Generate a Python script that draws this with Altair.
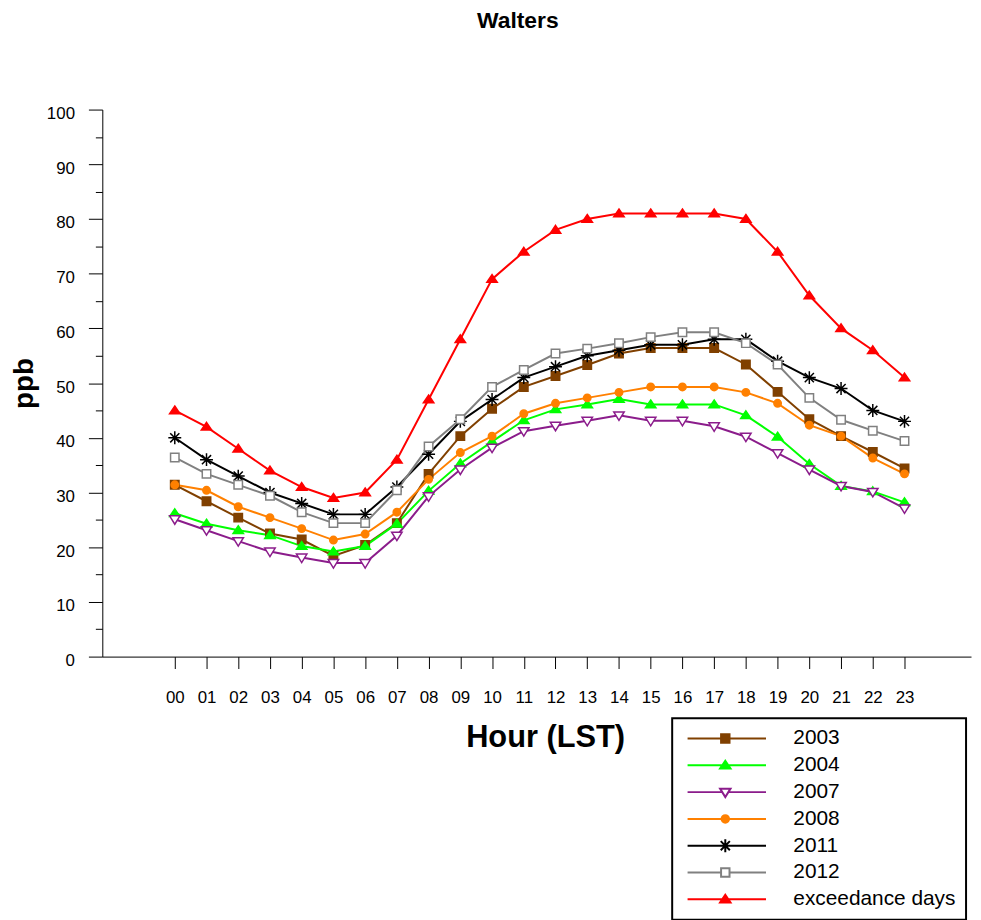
import altair as alt
import pandas as pd

FONT = "Liberation Sans, Arial, sans-serif"

hours = list(range(24))
series_names = ["2003", "2004", "2007", "2008", "2011", "2012", "exceedance days"]

v2003 = [31.4, 28.4, 25.4, 22.5, 21.4, 18.4, 20.4, 24.4, 33.4, 40.3, 45.3, 49.3,
         51.3, 53.3, 55.4, 56.4, 56.4, 56.4, 53.4, 48.4, 43.4, 40.3, 37.4, 34.4]
v2004 = [26.2, 24.3, 23.1, 22.2, 20.2, 19.2, 20.2, 24.3, 30.3, 35.3, 39.3, 43.2,
         45.2, 46.1, 47.1, 46.1, 46.1, 46.1, 44.1, 40.2, 35.2, 31.2, 30.2, 28.2]
v2007 = [25.1, 23.1, 21.1, 19.2, 18.1, 17.1, 17.1, 22.1, 29.3, 34.2, 38.2, 41.2,
         42.2, 43.1, 44.1, 43.1, 43.1, 42.1, 40.2, 37.2, 34.2, 31.2, 30.1, 27.1]
v2008 = [31.4, 30.4, 27.4, 25.4, 23.4, 21.3, 22.4, 26.4, 32.4, 37.3, 40.3, 44.4,
         46.3, 47.3, 48.3, 49.3, 49.3, 49.3, 48.3, 46.3, 42.3, 40.3, 36.3, 33.4]
v2011 = [40, 36, 33, 30, 28, 26, 26, 31, 37, 43, 47, 51,
         53, 55, 56, 57, 57, 58, 58, 54, 51, 49, 45, 43]
v2012 = [36.4, 33.4, 31.4, 29.4, 26.4, 24.4, 24.4, 30.4, 38.4, 43.4, 49.3, 52.4,
         55.4, 56.3, 57.3, 58.4, 59.3, 59.3, 57.3, 53.4, 47.3, 43.3, 41.3, 39.4]
vexceed = [45, 42, 38, 34, 31, 29, 30, 36, 47, 58, 69, 74,
           78, 80, 81, 81, 81, 81, 80, 74, 66, 60, 56, 51]

all_values = [v2003, v2004, v2007, v2008, v2011, v2012, vexceed]

stroke_colors = ["#804000", "#00FF00", "#8B1C8B", "#FF8000", "#000000", "#808080", "#FF0000"]
fill_colors = ["#804000", "#00FF00", "#FFFFFF", "#FF8000", "transparent", "#FFFFFF", "#FF0000"]

# marker shapes (unit = sqrt(size)/2 px)
SQ = "M-0.85,-0.85H0.85V0.85H-0.85Z"
TRI_UP = "M0,-0.9L1.05,0.65H-1.05Z"
TRI_DN = "M-1.05,-0.7H1.05L0,1.0Z"
CIRC = "M0.75,0A0.75,0.75,0,1,1,-0.75,0A0.75,0.75,0,1,1,0.75,0Z"
STAR = "M-1.3,0H1.3M0,-1.3V1.3M-0.92,-0.92L0.92,0.92M-0.92,0.92L0.92,-0.92"
marker_paths = [SQ, TRI_UP, TRI_DN, CIRC, STAR, SQ, TRI_UP]

# legend symbols: a line segment with the marker at its middle (starting at the symbol's left edge)
LINE = "M-1,0H14.8"
legend_paths = [
    LINE + "M5.75,-0.85H7.45V0.85H5.75Z",
    LINE + "M6.6,-0.9L7.65,0.65H5.55Z",
    "M-1,0H5.98M7.22,0H14.8" + "M5.55,-0.7H7.65L6.6,1.0Z",
    LINE + "M7.35,0A0.75,0.75,0,1,1,5.85,0A0.75,0.75,0,1,1,7.35,0Z",
    LINE + "M5.3,0H7.9M6.6,-1.3V1.3M5.68,-0.92L7.52,0.92M5.68,0.92L7.52,-0.92",
    "M-1,0H5.75M7.45,0H14.8" + "M5.75,-0.85H7.45V0.85H5.75Z",
    LINE + "M6.6,-0.9L7.65,0.65H5.55Z",
]

rows = []
for name, vals in zip(series_names, all_values):
    for h, v in zip(hours, vals):
        rows.append({"series": name, "hour": h, "value": v})
df = pd.DataFrame(rows)

x_enc = alt.X(
    "hour:Q",
    scale=alt.Scale(domain=[-2.284, 25.096], nice=False, zero=False),
    title="Hour (LST)",
    axis=alt.Axis(
        values=hours,
        labelExpr="datum.value < 10 ? '0' + datum.value : '' + datum.value",
        tickSize=12, tickWidth=1, tickColor="black",
        domainColor="black", domainWidth=1,
        labelPadding=21, labelFontSize=17, labelFont=FONT, labelColor="black",
        labelFlush=False, labelOverlap=False,
        titleFont=FONT, titleFontSize=31, titleFontWeight="bold", titleColor="black",
        titleX=446, titleY=82, titleBaseline="middle", titleAlign="center",
        grid=False,
    ),
)
y_enc = alt.Y(
    "value:Q",
    scale=alt.Scale(domain=[0, 100], nice=False),
    title="ppb",
    axis=alt.Axis(
        values=list(range(0, 101, 5)),
        labelExpr="datum.value % 10 === 0 ? datum.label : ''",
        tickSize={"condition": {"test": "datum.value % 10 === 0", "value": 14}, "value": 7},
        tickWidth=1, tickColor="black",
        domainColor="black", domainWidth=1,
        labelPadding=14, labelOffset=4, labelFontSize=17, labelFont=FONT, labelColor="black",
        labelFlush=False, labelOverlap=False,
        titleFont=FONT, titleFontSize=28, titleFontWeight="bold", titleColor="black",
        titleAngle=270, titleX=-78, titleY=275.5, titleBaseline="middle", titleAlign="center",
        grid=False,
    ),
)

base = alt.Chart(df).encode(x=x_enc, y=y_enc)

lines = base.mark_line(strokeWidth=2).encode(
    stroke=alt.Stroke("series:N", scale=alt.Scale(domain=series_names, range=stroke_colors), legend=None),
    order=alt.Order("hour:Q"),
)

points = base.mark_point(filled=True, opacity=1, size=100, strokeWidth=1.5).encode(
    fill=alt.Fill("series:N", scale=alt.Scale(domain=series_names, range=fill_colors), legend=None),
    stroke=alt.Stroke("series:N", scale=alt.Scale(domain=series_names, range=stroke_colors), legend=None),
    shape=alt.Shape("series:N", scale=alt.Scale(domain=series_names, range=marker_paths), legend=None),
)

leg = alt.Legend(
    orient="none", legendX=574, legendY=613, title=None,
    labelFont=FONT, labelFontSize=21, labelColor="black", labelLimit=400,
    labelOffset=91, rowPadding=5, padding=10,
    symbolSize=100, symbolStrokeWidth=2, symbolOpacity=1,
    strokeColor="black", fillColor="white",
)

legend_layer = base.mark_point(filled=True, opacity=0, size=100, strokeWidth=2).encode(
    fill=alt.Fill("series:N", scale=alt.Scale(domain=series_names, range=fill_colors), legend=leg),
    stroke=alt.Stroke("series:N", scale=alt.Scale(domain=series_names, range=stroke_colors), legend=leg),
    shape=alt.Shape("series:N", scale=alt.Scale(domain=series_names, range=legend_paths), legend=leg),
)

chart = (
    alt.layer(lines, points, legend_layer)
    .resolve_scale(shape="independent", fill="independent", stroke="independent")
    .properties(
        width=875,
        height=551,
        autosize=alt.AutoSizeParams(type="none"),
        padding={"left": 95, "top": 99, "right": 2, "bottom": 262},
        title=alt.TitleParams(
            text="Walters", font=FONT, fontSize=23, fontWeight="bold", color="black",
            anchor="middle", frame="group", dx=-19, offset=72,
        ),
        background="white",
    )
    .configure_view(stroke="transparent")
    .configure_legend(strokeWidth=2)
)

chart.save("out.html", embed_options={"renderer": "svg", "actions": False})
